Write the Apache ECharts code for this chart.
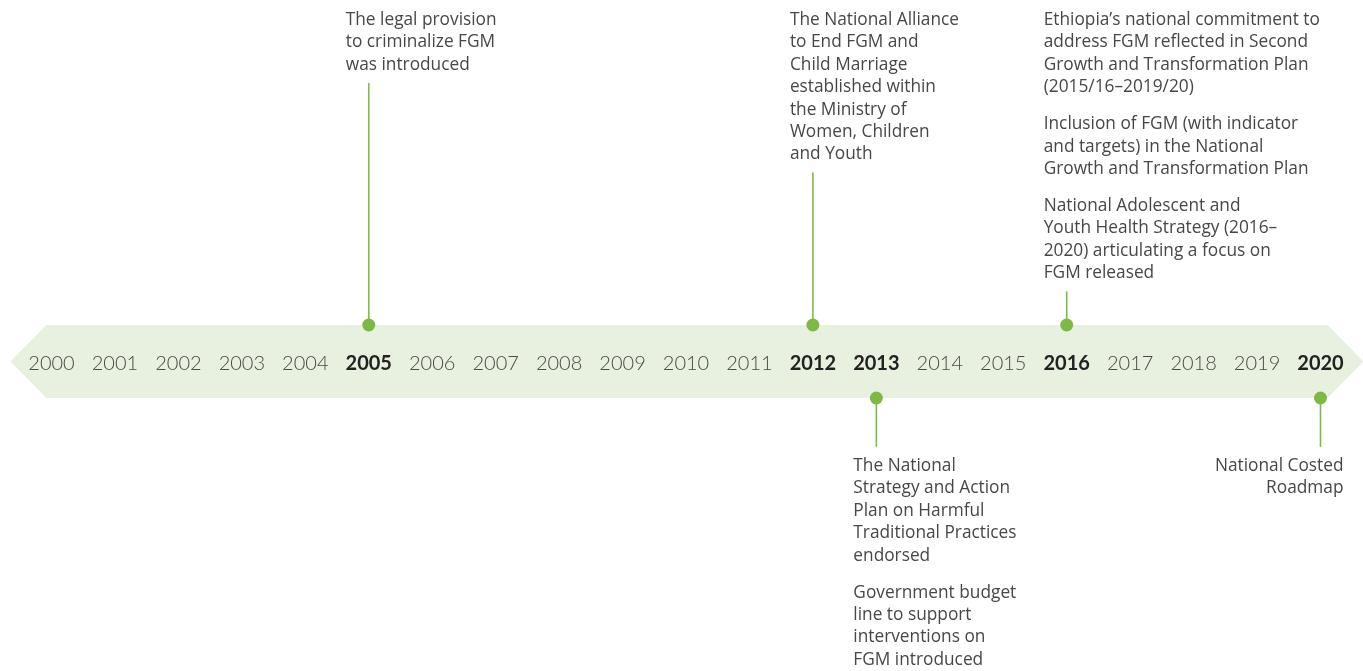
<!DOCTYPE html>
<html>
<head>
<meta charset="utf-8">
<script src="https://cdn.jsdelivr.net/npm/echarts@6/dist/echarts.min.js"></script>
<style>
html,body{margin:0;padding:0;background:#ffffff;}
#chart{width:1363px;height:671px;}
</style>
</head>
<body>
<div id="chart"></div>
<script>
// ---- data ----
var yearMin = 2000;
var yearMax = 2020;
var boldYears = [2005, 2012, 2013, 2016, 2020];
var eventYears = [2005, 2012, 2016, 2013, 2020];
var eventSides = ['top', 'top', 'top', 'bottom', 'bottom'];
var eventAligns = ['left', 'left', 'left', 'left', 'right'];
var eventTexts = [
  ['The legal provision\nto criminalize FGM\nwas introduced'],
  ['The National Alliance\nto End FGM and\nChild Marriage\nestablished within\nthe Ministry of\nWomen, Children\nand Youth'],
  ['Ethiopia\u2019s national commitment to\naddress FGM reflected in Second\nGrowth and Transformation Plan\n(2015/16\u20132019/20)',
   'Inclusion of FGM (with indicator\nand targets) in the National\nGrowth and Transformation Plan',
   'National Adolescent and\nYouth Health Strategy (2016\u2013\n2020) articulating a focus on\nFGM released'],
  ['The National\nStrategy and Action\nPlan on Harmful\nTraditional Practices\nendorsed',
   'Government budget\nline to support\ninterventions on\nFGM introduced'],
  ['National Costed\nRoadmap']
];

// ---- style / layout ----
var GREEN = '#7cba45';
var BAND = '#e8f0df';
var TEXT = '#474747';
var BAND_CY = 361.5, BAND_HALF = 36.5, TIP = 36;
var LINE_H = 22.4, BLOCK_GAP = 14.6;
var TEXT_FONT = '17.3px "Open Sans", "Liberation Sans", sans-serif';

var chart = echarts.init(document.getElementById('chart'), null, {renderer: 'canvas'});

function bandRender(params, api) {
  var x0 = api.coord([yearMin, 0])[0] - 5;
  var x1 = api.coord([yearMax, 0])[0] + 7;
  var t = BAND_CY - BAND_HALF, b = BAND_CY + BAND_HALF;
  return {
    type: 'polygon',
    shape: {points: [[x0 - TIP, BAND_CY], [x0, t], [x1, t], [x1 + TIP, BAND_CY], [x1, b], [x0, b]]},
    style: {fill: BAND}
  };
}

function eventRender(params, api) {
  var i = params.dataIndex;
  var x = api.coord([api.value(0), 0])[0];
  var side = eventSides[i];
  var align = eventAligns[i];
  var blocks = eventTexts[i];
  var children = [];
  var tx = align === 'left' ? x - 23 : x + 23;
  var dotY = side === 'top' ? BAND_CY - BAND_HALF : BAND_CY + BAND_HALF;
  var y = side === 'top' ? 20 - LINE_H / 2 : 466 - LINE_H / 2;
  var startY = y;
  blocks.forEach(function (txt, k) {
    var n = txt.split('\n').length;
    children.push({
      type: 'text',
      style: {
        text: txt, x: tx, y: y, fill: TEXT, font: TEXT_FONT,
        lineHeight: LINE_H, align: align, verticalAlign: 'top'
      }
    });
    y += n * LINE_H + (k < blocks.length - 1 ? BLOCK_GAP : 0);
  });
  var stemA, stemB;
  if (side === 'top') { stemA = y + 7; stemB = dotY; }
  else { stemA = dotY; stemB = startY - 8; }
  children.push({
    type: 'line',
    shape: {x1: x, y1: stemA, x2: x, y2: stemB},
    style: {stroke: GREEN, lineWidth: 1.6}
  });
  children.push({
    type: 'circle',
    shape: {cx: x, cy: dotY, r: 6.5},
    style: {fill: GREEN}
  });
  return {type: 'group', children: children};
}

var option = {
  animation: false,
  backgroundColor: '#ffffff',
  grid: {left: 51.5, right: 42.5, top: 0, bottom: 0, containLabel: false},
  xAxis: {
    type: 'value', min: yearMin, max: yearMax, interval: 1,
    position: 'bottom', offset: -(671 - 363.5),
    axisLine: {show: false}, axisTick: {show: false}, splitLine: {show: false},
    axisLabel: {
      show: true, margin: 0, verticalAlign: 'middle',
      showMinLabel: true, showMaxLabel: true, hideOverlap: false,
      formatter: function (v) {
        return boldYears.indexOf(v) >= 0 ? '{b|' + v + '}' : '{n|' + v + '}';
      },
      rich: {
        b: {fontFamily: 'Lato', fontSize: 20, fontWeight: 'bold', color: '#222222'},
        n: {fontFamily: 'Lato', fontSize: 20, fontWeight: 300, color: '#4a4a4a'}
      }
    },
    z: 10
  },
  yAxis: {type: 'value', min: 0, max: 1, show: false},
  series: [
    {
      type: 'custom', renderItem: bandRender, data: [[yearMin, 0]],
      silent: true, z: 1, clip: false
    },
    {
      type: 'custom', renderItem: eventRender,
      data: eventYears.map(function (y) { return [y, 0]; }),
      silent: true, z: 5, clip: false
    }
  ]
};
chart.setOption(option);
</script>
</body>
</html>
